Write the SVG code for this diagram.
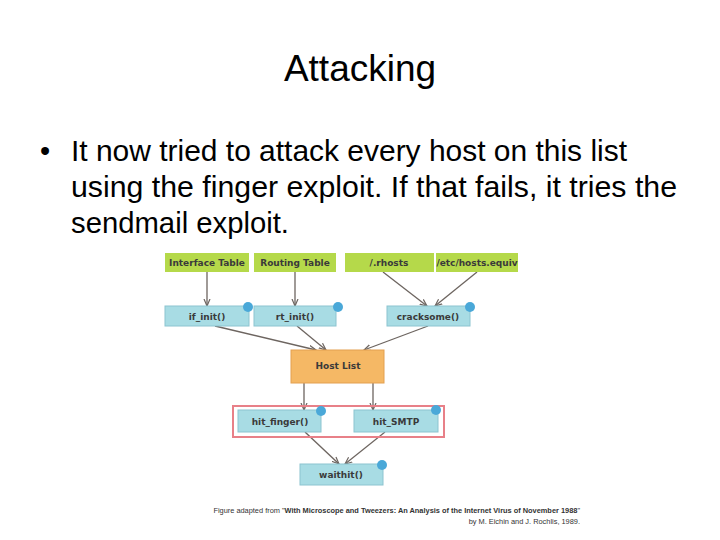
<svg xmlns="http://www.w3.org/2000/svg" width="720" height="540" viewBox="0 0 720 540">
<style>
.t{font-family:"Liberation Sans",Arial,sans-serif}
.g{fill:#b5d94a}
.b{fill:#a8dce4;stroke:#8cc4d0;stroke-width:1}
.d{fill:#4aa8d8}
.l{font-family:"DejaVu Sans",sans-serif;font-size:9px;font-weight:bold;fill:#3a3a3a;text-anchor:middle}
.c{stroke:#6d6560;stroke-width:1.3;fill:none;marker-end:url(#a)}
</style>
<defs><marker id="a" markerWidth="8" markerHeight="8" refX="7" refY="4" orient="auto" markerUnits="userSpaceOnUse"><path d="M0,1 L7,4 L0,7" fill="none" stroke="#6d6560" stroke-width="1.2"/></marker></defs>
<rect width="720" height="540" fill="#fff"/>
<text x="360" y="81" class="t" font-size="37" text-anchor="middle">Attacking</text>
<g class="t" font-size="29" fill="#000">
<text x="40" y="161">•</text>
<text x="71" y="161" textLength="556" lengthAdjust="spacingAndGlyphs">It now tried to attack every host on this list</text>
<text x="71" y="197" textLength="606" lengthAdjust="spacingAndGlyphs">using the finger exploit.  If that fails, it tries the</text>
<text x="71" y="233" textLength="218" lengthAdjust="spacingAndGlyphs">sendmail exploit.</text>
</g>
<g id="connectors">
<path class="c" d="M207,272 V306"/>
<path class="c" d="M295,272 V306"/>
<path class="c" d="M383,272 L427,306"/>
<path class="c" d="M477,272 L435,306"/>
<path class="c" d="M215,326 L316,350"/>
<path class="c" d="M297,326 L326,350"/>
<path class="c" d="M428,326 L364,350"/>
<path class="c" d="M304,383 V410"/>
<path class="c" d="M373,383 V410"/>
<path class="c" d="M305,432 L339,464"/>
<path class="c" d="M385,432 L345,464"/>
</g>
<g id="interface"><rect class="g" x="165" y="253" width="84" height="19"/><text class="l" x="207" y="266">Interface Table</text></g>
<g id="routing"><rect class="g" x="254" y="253" width="82" height="19"/><text class="l" x="295" y="266">Routing Table</text></g>
<g id="rhosts"><rect class="g" x="345" y="253" width="89" height="19"/><text class="l" x="389" y="266">/.rhosts</text></g>
<g id="hostsequiv"><rect class="g" x="436" y="253" width="82" height="19"/><text class="l" x="477" y="266">/etc/hosts.equiv</text></g>
<g id="ifinit"><rect class="b" x="165" y="306" width="84" height="20"/><circle class="d" cx="248" cy="307" r="5"/><text class="l" x="207" y="320">if_init()</text></g>
<g id="rtinit"><rect class="b" x="254" y="306" width="82" height="20"/><circle class="d" cx="338" cy="307" r="5"/><text class="l" x="295" y="320">rt_init()</text></g>
<g id="cracksome"><rect class="b" x="387" y="306" width="83" height="20"/><circle class="d" cx="470" cy="307" r="5"/><text class="l" x="428" y="320">cracksome()</text></g>
<g id="hostlist"><rect x="291" y="350" width="93" height="33" fill="#f5b865" stroke="#e3a050"/><text class="l" x="338" y="369">Host List</text></g>
<g id="group"><rect x="233" y="406" width="211" height="31" fill="none" stroke="#e88088" stroke-width="2"/></g>
<g id="hitfinger"><rect class="b" x="238" y="410" width="83" height="22"/><circle class="d" cx="321" cy="411" r="5"/><text class="l" x="280" y="425">hit_finger()</text></g>
<g id="hitsmtp"><rect class="b" x="354" y="410" width="84" height="22"/><circle class="d" cx="436" cy="410" r="5"/><text class="l" x="396" y="425">hit_SMTP</text></g>
<g id="waithit"><rect class="b" x="300" y="464" width="83" height="21"/><circle class="d" cx="382" cy="465" r="5"/><text class="l" x="341" y="478">waithit()</text></g>
<g class="t" font-size="7.4" fill="#333" text-anchor="end">
<text x="580" y="513">Figure adapted from "<tspan font-weight="bold">With Microscope and Tweezers: An Analysis of the Internet Virus of November 1988</tspan>"</text>
<text x="580" y="524">by M. Eichin and J. Rochlis, 1989.</text>
</g>
</svg>
